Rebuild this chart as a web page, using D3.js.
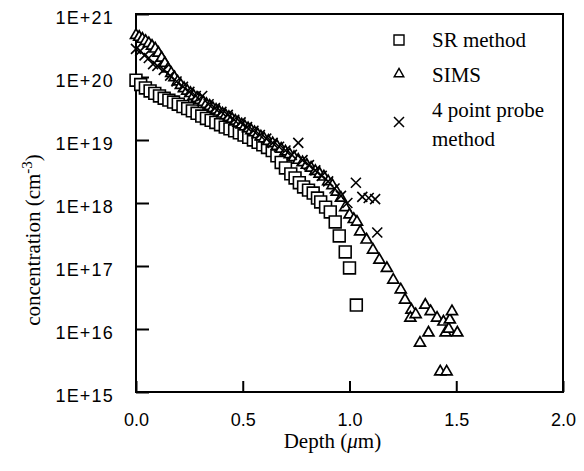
<!DOCTYPE html>
<html>
<head>
<meta charset="utf-8">
<script src="https://cdn.jsdelivr.net/npm/d3@7"></script>
<style>
  body { margin: 0; background: #fff; }
</style>
</head>
<body>
<div id="chart"></div>
<script>
const SANS = "Liberation Sans";
const SERIF = "Liberation Serif";

// SR method (squares)
const srDepth = [0.000, 0.022, 0.044, 0.066, 0.088, 0.110, 0.132, 0.154, 0.176, 0.198,
                 0.220, 0.242, 0.264, 0.286, 0.308, 0.330, 0.352, 0.374, 0.396, 0.418,
                 0.440, 0.462, 0.484, 0.506, 0.528, 0.550, 0.572, 0.594, 0.616, 0.638,
                 0.660, 0.680, 0.700, 0.725, 0.745, 0.765, 0.785, 0.808, 0.830, 0.850,
                 0.865, 0.888, 0.910, 0.933, 0.952, 0.980, 1.000, 1.032];
const srConc = [8.9e19, 7.6e19, 6.7e19, 6.0e19, 5.5e19, 5.0e19, 4.6e19, 4.3e19, 4.0e19, 3.7e19,
                3.4e19, 3.15e19, 2.9e19, 2.65e19, 2.4e19, 2.2e19, 2.05e19, 1.9e19, 1.75e19, 1.6e19,
                1.5e19, 1.4e19, 1.3e19, 1.2e19, 1.1e19, 1.0e19, 9.2e18, 8.4e18, 7.6e18, 6.8e18,
                5.6e18, 4.4e18, 3.6e18, 2.9e18, 2.5e18, 2.1e18, 1.8e18, 1.6e18, 1.44e18, 1.2e18,
                1.04e18, 8.6e17, 7.2e17, 5.0e17, 3.0e17, 1.67e17, 9.3e16, 2.4e16];

// SIMS (triangles)
const simsDepth = [0.000, 0.015, 0.030, 0.045, 0.060, 0.075, 0.090, 0.105, 0.120, 0.135,
                   0.150, 0.165, 0.180, 0.195, 0.210, 0.225, 0.240, 0.255, 0.270, 0.285,
                   0.300, 0.315, 0.330, 0.345, 0.360, 0.375, 0.390, 0.405, 0.420, 0.435,
                   0.450, 0.465, 0.480, 0.495, 0.510, 0.525, 0.540, 0.555, 0.570, 0.585,
                   0.600, 0.62, 0.64, 0.66, 0.68, 0.70, 0.72, 0.74, 0.76, 0.78,
                   0.80, 0.82, 0.84, 0.86, 0.88, 0.90, 0.92, 0.94, 0.96, 0.98,
                   1.00, 1.02, 1.035, 1.05, 1.08, 1.11, 1.14, 1.175, 1.205, 1.24,
                   1.26, 1.29, 1.285, 1.31, 1.33, 1.355, 1.37, 1.38, 1.41, 1.44,
                   1.45, 1.465, 1.47, 1.48, 1.505, 1.425, 1.455];
const simsConc = [4.6e20, 4.3e20, 4.0e20, 3.7e20, 3.4e20, 3.1e20, 2.8e20, 2.4e20, 2.0e20, 1.65e20,
                  1.35e20, 1.15e20, 9.8e19, 8.4e19, 7.4e19, 6.6e19, 6.0e19, 5.5e19, 5.0e19, 4.6e19,
                  4.3e19, 4.0e19, 3.7e19, 3.45e19, 3.2e19, 3.0e19, 2.8e19, 2.6e19, 2.45e19, 2.3e19,
                  2.15e19, 2.0e19, 1.87e19, 1.75e19, 1.63e19, 1.52e19, 1.42e19, 1.32e19, 1.22e19, 1.13e19,
                  1.05e19, 9.6e18, 8.8e18, 8.0e18, 7.2e18, 6.5e18, 5.9e18, 5.3e18, 4.8e18, 4.4e18,
                  4.0e18, 3.6e18, 3.2e18, 2.9e18, 2.6e18, 2.2e18, 1.9e18, 1.5e18, 1.2e18, 8.5e17,
                  6.5e17, 5.5e17, 5.0e17, 3.5e17, 2.6e17, 1.8e17, 1.25e17, 9.2e16, 6.0e16, 4.2e16,
                  2.9e16, 2.0e16, 1.5e16, 1.7e16, 6.0e15, 2.4e16, 8.7e15, 1.9e16, 1.5e16, 1.3e16,
                  8.7e15, 1.0e16, 1.4e16, 1.9e16, 8.7e15, 2.1e15, 2.1e15];

// 4 point probe method (crosses)
const fppDepth = [0.00, 0.02, 0.04, 0.06, 0.08, 0.10, 0.13, 0.16, 0.19, 0.22,
                  0.25, 0.28, 0.31, 0.34, 0.37, 0.40, 0.43, 0.46, 0.49, 0.52,
                  0.55, 0.58, 0.61, 0.64, 0.67, 0.70, 0.73, 0.76, 0.78, 0.81,
                  0.84, 0.87, 0.90, 0.93, 0.96, 0.99, 1.03, 1.06, 1.09, 1.12, 1.13];
const fppConc = [2.8e20, 2.6e20, 2.2e20, 2.0e20, 1.6e20, 1.5e20, 1.3e20, 1.05e20, 8.5e19, 7.0e19,
                 5.8e19, 5.0e19, 5.0e19, 3.7e19, 3.2e19, 2.8e19, 2.5e19, 2.1e19, 1.9e19, 1.6e19,
                 1.4e19, 1.2e19, 1.05e19, 9.0e18, 7.8e18, 6.8e18, 5.8e18, 9.0e18, 4.8e18, 4.0e18,
                 3.3e18, 2.7e18, 2.2e18, 1.7e18, 1.3e18, 1.0e18, 2.1e18, 1.25e18, 1.2e18, 1.15e18, 3.4e17];

const xTicks = [0, 0.5, 1.0, 1.5, 2.0];
const yTicks = [1e15, 1e16, 1e17, 1e18, 1e19, 1e20, 1e21];
const legendLabels = ["SR method", "SIMS", "4 point probe", "method"];

const margin = {top: 14, right: 21, bottom: 79, left: 136};
const width = 584 - margin.left - margin.right;
const height = 471 - margin.top - margin.bottom;

const svg = d3.select("#chart")
    .append("svg")
    .attr("width", 584)
    .attr("height", 471)
    .append("g")
    .attr("transform", "translate(" + margin.left + "," + margin.top + ")");

const x = d3.scaleLinear().domain([0, 2]).range([0, width]);
const y = d3.scaleLog().domain([1e15, 1e21]).range([height, 0]);

// axes
const xAxis = d3.axisBottom(x)
    .tickValues(xTicks)
    .tickFormat(d3.format(".1f"))
    .tickSizeInner(-11)
    .tickSizeOuter(0)
    .tickPadding(21);

const yAxis = d3.axisLeft(y)
    .tickValues(yTicks)
    .tickFormat(d => "1E+" + Math.round(Math.log10(d)))
    .tickSizeInner(-13)
    .tickSizeOuter(0)
    .tickPadding(22);

const gx = svg.append("g")
    .attr("class", "x-axis axis")
    .attr("font-family", SANS)
    .attr("font-size", 18)
    .attr("transform", "translate(0," + height + ")")
    .call(xAxis);
gx.select(".domain").remove();
gx.selectAll("line").attr("stroke-width", 2);
gx.selectAll("text").attr("fill", "#000");

const gy = svg.append("g")
    .attr("class", "y-axis axis")
    .call(yAxis)
    .attr("font-family", SANS)
    .attr("font-size", 18);
gy.select(".domain").remove();
gy.selectAll("line").attr("stroke-width", 2);
gy.selectAll("text")
    .attr("fill", "#000")
    .attr("letter-spacing", 1.2)
    .attr("y", 4);
gx.attr("font-family", SANS).attr("font-size", 18);

// frame
svg.append("rect")
    .attr("x", 0).attr("y", 0)
    .attr("width", width).attr("height", height)
    .attr("fill", "none")
    .attr("stroke", "#000")
    .attr("stroke-width", 2);

// markers
const sq = d3.symbol().type(d3.symbolSquare).size(140);
const tri = d3.symbol().type(d3.symbolTriangle).size(52);
const cross = "M-5,-5L5,5M-5,5L5,-5";

svg.selectAll(".sr")
    .data(srDepth.map((d, i) => ({depth: d, conc: srConc[i]})))
    .enter().append("path")
    .attr("class", "sr")
    .attr("d", sq)
    .attr("transform", d => "translate(" + x(d.depth) + "," + y(d.conc) + ")")
    .attr("fill", "#fff")
    .attr("stroke", "#000")
    .attr("stroke-width", 1.6);

svg.selectAll(".sims")
    .data(simsDepth.map((d, i) => ({depth: d, conc: simsConc[i]})))
    .enter().append("path")
    .attr("class", "sims")
    .attr("d", tri)
    .attr("transform", d => "translate(" + x(d.depth) + "," + y(d.conc) + ")")
    .attr("fill", "#fff")
    .attr("stroke", "#000")
    .attr("stroke-width", 1.7);

svg.selectAll(".fpp")
    .data(fppDepth.map((d, i) => ({depth: d, conc: fppConc[i]})))
    .enter().append("path")
    .attr("class", "fpp")
    .attr("d", cross)
    .attr("transform", d => "translate(" + x(d.depth) + "," + y(d.conc) + ")")
    .attr("fill", "none")
    .attr("stroke", "#000")
    .attr("stroke-width", 1.6);

// legend
const legend = svg.append("g").attr("transform", "translate(263,0)");
legend.append("path").attr("d", d3.symbol().type(d3.symbolSquare).size(100)())
    .attr("transform", "translate(0,26)")
    .attr("fill", "#fff").attr("stroke", "#000").attr("stroke-width", 1.4);
legend.append("path").attr("d", d3.symbol().type(d3.symbolTriangle).size(40)())
    .attr("transform", "translate(0,60)")
    .attr("fill", "#fff").attr("stroke", "#000").attr("stroke-width", 1.4);
legend.append("path").attr("d", cross)
    .attr("transform", "translate(0,108)")
    .attr("fill", "none").attr("stroke", "#000").attr("stroke-width", 1.5);

[33, 68, 103, 132].forEach((ty, i) => {
    legend.append("text")
        .attr("x", 33)
        .attr("y", ty)
        .attr("font-family", SERIF)
        .attr("font-size", 21)
        .text(legendLabels[i]);
});

// axis titles
const xTitle = svg.append("text")
    .attr("x", x(0.92))
    .attr("y", height + 56)
    .attr("text-anchor", "middle")
    .attr("font-family", SERIF)
    .attr("font-size", 21);
xTitle.append("tspan").text("Depth (");
xTitle.append("tspan").attr("font-style", "italic").text("\u03bc");
xTitle.append("tspan").text("m)");

const yTitle = svg.append("text")
    .attr("transform", "translate(-96," + (y(1e18) + 37) + ") rotate(-90)")
    .attr("text-anchor", "middle")
    .attr("font-family", SERIF)
    .attr("font-size", 21);
yTitle.append("tspan").text("concentration (cm");
yTitle.append("tspan").attr("dy", -8).attr("font-size", 15).text("-3");
yTitle.append("tspan").attr("dy", 8).text(")");
</script>
</body>
</html>
